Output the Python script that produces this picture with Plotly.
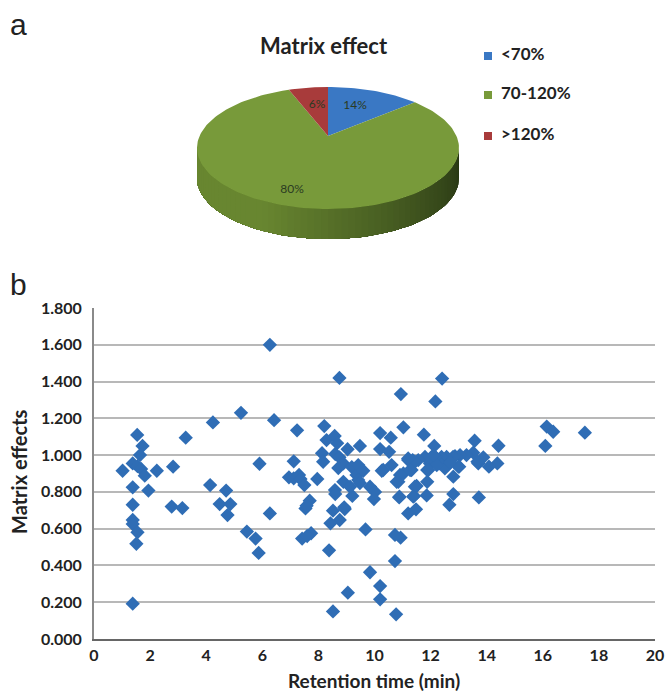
import math
import plotly.graph_objects as go

# ---- data -------------------------------------------------------------
pie_title = "Matrix effect"
pie_labels = ["<70%", "70-120%", ">120%"]
pie_values = [14, 80, 6]
pie_colors = ["#3a78c4", "#789a3a", "#a83b3b"]

retention_time = [
    1.02, 1.54, 1.73, 1.64, 1.38, 1.55, 1.68, 1.81, 2.24, 2.82, 1.38, 1.94, 1.38, 2.77, 3.15, 1.38, 1.38, 1.55, 1.51, 1.38,
    3.27, 4.24, 5.24, 6.42, 6.27, 5.90, 4.14, 4.71, 4.48, 4.86, 4.76, 6.27, 5.45, 5.76, 5.87,
    7.24, 7.12, 6.95, 7.12, 7.31, 7.36, 7.50, 7.96, 7.69, 7.54, 7.58, 7.42, 7.74, 7.60,
    8.21, 8.29, 8.58, 8.67, 8.13, 8.17, 9.04, 8.60, 8.75, 8.89, 8.71, 9.48, 9.19, 9.36, 8.89, 8.59, 8.60, 9.21, 9.13,
    8.52, 8.94, 8.76, 8.43, 8.38, 8.75, 9.05, 8.52,
    12.41, 10.94, 12.17, 11.03, 10.20, 10.58, 11.76, 10.20, 10.52, 12.13, 13.57, 14.42, 16.14, 16.37, 17.50, 16.09,
    14.38, 14.08, 13.88, 13.70, 13.52, 13.28, 13.05, 12.87, 13.02, 12.81, 12.80, 12.57, 12.60, 12.39, 12.33, 12.16,
    11.98, 11.80, 11.88, 11.56, 11.36, 11.20, 11.32, 11.03, 10.85, 10.61, 10.31, 10.26, 11.88, 11.50, 11.86, 11.41,
    10.88, 12.81, 12.67, 13.72, 11.48, 11.20, 10.73, 10.93, 10.73, 9.68, 9.84, 10.20, 10.20, 10.77,
    9.42, 9.60, 9.42, 9.48, 9.84, 10.02, 9.98, 8.92, 10.91, 10.79, 11.44, 11.44, 11.38, 10.89,
    12.51, 12.22, 11.92, 11.27, 12.99, 13.67, 11.20, 12.10, 12.70,
]
matrix_effects = [
    0.915, 1.110, 1.050, 1.000, 0.955, 0.940, 0.925, 0.888, 0.915, 0.937, 0.825, 0.807, 0.730, 0.720, 0.712, 0.647, 0.625, 0.580, 0.518, 0.192,
    1.095, 1.178, 1.230, 1.190, 1.600, 0.953, 0.837, 0.807, 0.734, 0.734, 0.674, 0.683, 0.584, 0.546, 0.468,
    1.135, 0.966, 0.879, 0.874, 0.892, 0.870, 0.837, 0.870, 0.752, 0.710, 0.725, 0.546, 0.575, 0.560,
    1.158, 1.082, 1.104, 1.065, 1.010, 0.964, 1.032, 1.006, 0.988, 0.955, 0.930, 1.050, 0.935, 0.892, 0.855, 0.810, 0.788, 0.778, 0.828,
    0.698, 0.707, 0.647, 0.629, 0.482, 1.420, 0.252, 0.150,
    1.416, 1.332, 1.292, 1.151, 1.120, 1.095, 1.111, 1.033, 1.018, 1.050, 1.078, 1.051, 1.155, 1.127, 1.122, 1.050,
    0.955, 0.937, 0.988, 0.955, 1.013, 1.000, 1.000, 0.995, 0.937, 0.883, 0.990, 0.990, 0.946, 0.990, 0.955, 0.990,
    0.955, 0.990, 0.919, 0.973, 0.973, 0.973, 0.919, 0.900, 0.855, 0.946, 0.919, 0.915, 0.855, 0.832, 0.781, 0.778,
    0.770, 0.788, 0.730, 0.770, 0.705, 0.683, 0.566, 0.551, 0.424, 0.596, 0.363, 0.288, 0.216, 0.134,
    0.946, 0.915, 0.864, 0.848, 0.828, 0.800, 0.761, 0.716, 0.892, 0.855, 0.964, 0.828, 0.774, 0.774,
    0.928, 0.946, 0.919, 0.919, 0.937, 0.964, 0.982, 1.000, 0.960,
]
x_ticks = [0, 2, 4, 6, 8, 10, 12, 14, 16, 18, 20]
y_ticks = [0, 0.2, 0.4, 0.6, 0.8, 1.0, 1.2, 1.4, 1.6, 1.8]

# ---- layout constants (pixels) ------------------------------------------
W, H = 665, 695
PL, PR, PT, PB = 94, 655, 308, 639
CX, CY, RX, RY = 328, 148, 131, 61   # pie top ellipse
AX, AY = 328, 136                    # apex of the pie seen in perspective
DEPTH = 30
FONT = "Lato, 'Open Sans', sans-serif"
TXT = "#222222"

fig = go.Figure()


def persp(theta):
    return theta - 0.2 * math.sin(theta)


def rim(theta):
    t = persp(theta)
    return CX + RX * math.sin(t), CY - RY * math.cos(t)


def wall_colour(f):
    # f: 0 at the right end of the wall, 1 at the left end
    dark, light = (40, 55, 20), (104, 134, 48)
    g = min(1.0, f * 1.5) ** 1.1
    return "rgb(%d,%d,%d)" % tuple(round(d + (l - d) * g) for d, l in zip(dark, light))


PX = dict(xaxis="x2", yaxis="y2", showlegend=False, hoverinfo="skip")

# side wall: painted from the right end, each band running on to the left end
N_WALL = 60
for i in range(N_WALL):
    a0 = math.pi / 2 + math.pi * i / N_WALL
    steps = N_WALL - i
    xs, ys = [], []
    for k in range(steps + 1):
        a = a0 + (1.5 * math.pi - a0) * k / steps
        xs.append(CX + RX * math.sin(a))
        ys.append(CY - RY * math.cos(a))
    xb = xs[::-1]
    yb = [y + DEPTH for y in ys[::-1]]
    fig.add_trace(go.Scatter(x=xs + xb + xs[:1], y=ys + yb + ys[:1], mode="lines",
                             line=dict(width=0), fill="toself",
                             fillcolor=wall_colour(i / (N_WALL - 1)), **PX))

# top surface, slices computed from the values
total = sum(pie_values)
start = 0.0
for val, col in zip(pie_values, pie_colors):
    end = start + val / total * 2 * math.pi
    n = max(4, int(val * 2))
    pts = [rim(start + (end - start) * k / n) for k in range(n + 1)]
    xs = [AX] + [p[0] for p in pts] + [AX]
    ys = [AY] + [p[1] for p in pts] + [AY]
    fig.add_trace(go.Scatter(x=xs, y=ys, mode="lines", line=dict(width=0),
                             fill="toself", fillcolor=col, **PX))
    start = end

# slice labels
label_x = [355, 292, 317]
label_y = [106, 190, 105]
fig.add_trace(go.Scatter(x=label_x, y=label_y, mode="text",
                         text=["%d%%" % v for v in pie_values],
                         textposition="middle center",
                         textfont=dict(family=FONT, size=12, color="#2b3a22"), **PX))

# legend of the pie
legend_y = [56, 95, 136]
fig.add_trace(go.Scatter(x=[488] * 3, y=legend_y, mode="markers",
                         marker=dict(symbol="square", size=8, color=pie_colors), **PX))
fig.add_trace(go.Scatter(x=[501] * 3, y=legend_y, mode="text", text=pie_labels,
                         textposition="middle right",
                         textfont=dict(family=FONT, size=17, weight="bold", color=TXT), **PX))

# scatter
fig.add_trace(go.Scatter(x=retention_time, y=matrix_effects, mode="markers",
                         marker=dict(symbol="diamond", size=11, color="#2f6db5"),
                         showlegend=False, hoverinfo="skip", cliponaxis=False))

ann = [
    dict(text="a", x=8, y=24, size=30, family="'Liberation Sans', Arial, sans-serif", weight="normal", xanchor="left", angle=0),
    dict(text="b", x=8, y=284, size=30, family="'Liberation Sans', Arial, sans-serif", weight="normal", xanchor="left", angle=0),
    dict(text=pie_title, x=324, y=45, size=22, family=FONT, weight="bold", xanchor="center", angle=0),
    dict(text="Matrix effects", x=19, y=472, size=20, family=FONT, weight="bold", xanchor="center", angle=-90),
    dict(text="Retention time (min)", x=374, y=680, size=19, family=FONT, weight="bold", xanchor="center", angle=0),
]
annotations = [
    dict(text=a["text"], x=a["x"], y=a["y"], xref="x2", yref="y2", showarrow=False,
         xanchor=a["xanchor"], yanchor="middle", textangle=a["angle"],
         font=dict(family=a["family"], size=a["size"], weight=a["weight"], color=TXT))
    for a in ann
]

fig.update_layout(
    width=W, height=H, autosize=False, margin=dict(l=0, r=0, t=0, b=0, autoexpand=False),
    paper_bgcolor="white", plot_bgcolor="rgba(0,0,0,0)", annotations=annotations,
    xaxis=dict(domain=[PL / W, PR / W], range=[0, 20], tickvals=x_ticks, ticks="",
               showgrid=False, zeroline=False, showline=True, linecolor="#666666", linewidth=2,
               ticklabelstandoff=1, tickfont=dict(family=FONT, size=16, weight="bold", color=TXT)),
    yaxis=dict(domain=[(H - PB) / H, (H - PT) / H], range=[0, 1.8], tickvals=y_ticks, tickformat=".3f",
               ticks="", showgrid=True, gridcolor="#b8b8b8", gridwidth=2, zeroline=False,
               showline=True, linecolor="#8a8a8a", linewidth=2, ticklabelstandoff=7,
               tickfont=dict(family=FONT, size=16, weight="bold", color=TXT)),
    xaxis2=dict(domain=[0, 1], range=[0, W], visible=False, anchor="y2", fixedrange=True),
    yaxis2=dict(domain=[0, 1], range=[H, 0], visible=False, anchor="x2", fixedrange=True),
)

fig.write_html("out.html", config=dict(displayModeBar=False),
               post_script="document.body.style.margin='0';document.body.style.overflow='hidden';")
